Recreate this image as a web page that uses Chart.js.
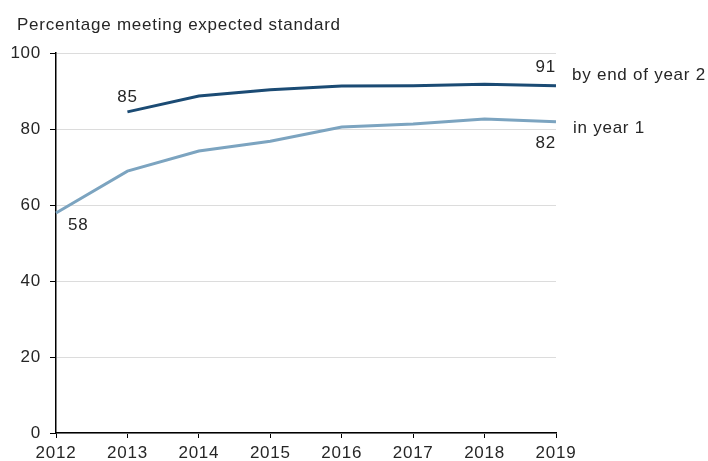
<!DOCTYPE html>
<html>
<head>
<meta charset="utf-8">
<script src="https://cdn.jsdelivr.net/npm/chart.js@4"></script>
<style>
  html, body { margin: 0; padding: 0; background: #fff; }
  #wrap { width: 708px; height: 461px; }
</style>
</head>
<body>
<div id="wrap"><canvas id="chart" width="708" height="461"></canvas></div>
<script>
const years = ["2012", "2013", "2014", "2015", "2016", "2017", "2018", "2019"];
const endOfYear2 = [null, 84.5, 88.7, 90.3, 91.3, 91.4, 91.8, 91.4];
const inYear1 = [57.9, 68.9, 74.2, 76.8, 80.5, 81.3, 82.6, 81.9];
const yTicks = [0, 20, 40, 60, 80, 100];

const darkBlue = '#1b4b74';
const lightBlue = '#7ca4c0';
const font = '"Liberation Sans", Arial, sans-serif';
const textColor = '#262626';

// the source font is a bit wider than Arial, so space the letters out
const spacing = {
    id: 'spacing',
    beforeLayout(chart) { chart.ctx.letterSpacing = '0.75px'; },
    beforeDraw(chart) { chart.ctx.letterSpacing = '0.75px'; }
};

// title, value labels and series names
const annotations = {
    id: 'annotations',
    afterDatasetsDraw(chart) {
        let ctx = chart.ctx;
        let x = chart.scales.x;
        let y = chart.scales.y;
        ctx.save();
        ctx.font = '17px ' + font;
        ctx.fillStyle = textColor;
        ctx.textBaseline = 'alphabetic';

        ctx.textAlign = 'left';
        ctx.fillText('Percentage meeting expected standard', 17, 30);

        ctx.textAlign = 'center';
        ctx.fillText(Math.round(endOfYear2[1]), x.getPixelForValue(1), y.getPixelForValue(endOfYear2[1]) - 10);
        ctx.textAlign = 'left';
        ctx.fillText(Math.round(inYear1[0]), x.getPixelForValue(0) + 12, y.getPixelForValue(inYear1[0]) + 17);
        ctx.textAlign = 'right';
        ctx.fillText(Math.round(endOfYear2[7]), x.getPixelForValue(7), y.getPixelForValue(endOfYear2[7]) - 14);
        ctx.fillText(Math.round(inYear1[7]), x.getPixelForValue(7), y.getPixelForValue(inYear1[7]) + 26);

        ctx.textAlign = 'left';
        ctx.fillText('by end of year 2', x.right + 16, 80);
        ctx.fillText('in year 1', x.right + 17, 133);
        ctx.restore();
    }
};

new Chart(document.getElementById('chart').getContext('2d'), {
    type: 'line',
    data: {
        labels: years,
        datasets: [
            {
                label: 'by end of year 2',
                data: endOfYear2,
                borderColor: darkBlue,
                borderWidth: 3,
                pointRadius: 0,
                tension: 0,
                spanGaps: false
            },
            {
                label: 'in year 1',
                data: inYear1,
                borderColor: lightBlue,
                borderWidth: 3,
                pointRadius: 0,
                tension: 0
            }
        ]
    },
    options: {
        responsive: false,
        animation: false,
        layout: {
            padding: { left: 0, right: 152, top: 53, bottom: 0 }
        },
        plugins: {
            legend: { display: false },
            title: { display: false },
            tooltip: { enabled: false }
        },
        scales: {
            x: {
                offset: false,
                grid: {
                    drawOnChartArea: false,
                    drawTicks: true,
                    tickLength: 5,
                    tickColor: '#000'
                },
                border: { color: '#000', width: 1.5 },
                ticks: {
                    color: textColor,
                    font: { family: font, size: 17 },
                    padding: 5,
                    maxRotation: 0,
                    autoSkip: false
                },
                afterFit: scale => { scale.height = 28; }
            },
            y: {
                min: 0,
                max: 100,
                afterBuildTicks: scale => {
                    scale.ticks = yTicks.map(v => ({ value: v }));
                },
                grid: {
                    color: '#dcdcdc',
                    lineWidth: 1,
                    tickLength: 6,
                    tickColor: '#000'
                },
                border: { color: '#000', width: 1.5 },
                ticks: {
                    color: textColor,
                    font: { family: font, size: 17 },
                    padding: 9
                },
                afterFit: scale => { scale.width = 56; }
            }
        }
    },
    plugins: [spacing, annotations]
});
</script>
</body>
</html>
